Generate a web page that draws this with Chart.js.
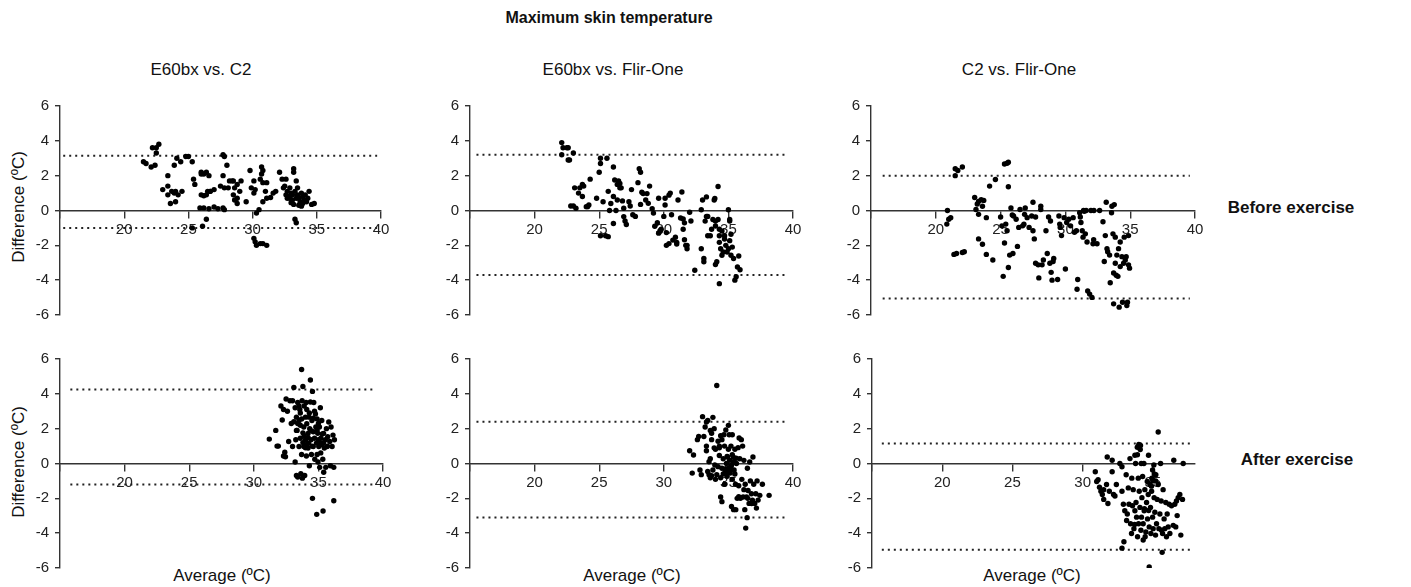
<!DOCTYPE html>
<html>
<head>
<meta charset="utf-8">
<script src="https://cdn.jsdelivr.net/npm/chart.js@4.4.1/dist/chart.umd.min.js"></script>
<style>
  body { margin: 0; background: #fff; font-family: "Liberation Sans", Arial, sans-serif; color: #111; }
  #wrap { position: relative; width: 1411px; height: 587px; overflow: hidden; }
  canvas { position: absolute; }
  .lbl { position: absolute; transform: translate(-50%, -50%); white-space: nowrap; }
  .main { font-weight: bold; font-size: 16px; }
  .col { font-size: 17px; }
  .row { font-weight: bold; font-size: 17px; }
  .ax { font-size: 17px; }
  .rot { transform: translate(-50%, -50%) rotate(-90deg); }
</style>
</head>
<body>
<div id="wrap">
  <div class="lbl main" style="left:609px; top:18px">Maximum skin temperature</div>
  <div class="lbl col" style="left:201px; top:70px">E60bx vs. C2</div>
  <div class="lbl col" style="left:613px; top:70px">E60bx vs. Flir-One</div>
  <div class="lbl col" style="left:1019px; top:70px">C2 vs. Flir-One</div>
  <div class="lbl row" style="left:1291px; top:208px">Before exercise</div>
  <div class="lbl row" style="left:1297px; top:460px">After exercise</div>
  <div class="lbl ax rot" style="left:19px; top:207px">Difference (ºC)</div>
  <div class="lbl ax rot" style="left:19px; top:462px">Difference (ºC)</div>
  <div class="lbl ax" style="left:222px; top:576px">Average (ºC)</div>
  <div class="lbl ax" style="left:632px; top:576px">Average (ºC)</div>
  <div class="lbl ax" style="left:1032px; top:576px">Average (ºC)</div>
</div>
<script>
// [average, difference] pairs
const e60c2Before = [
  [21.5,2.8],[21.7,2.7],[22.2,3.6],[22.5,3.6],[22.7,3.8],[22.5,3.3],[22.1,2.5],[22.4,2.6],
  [23.0,1.2],[23.4,2.0],[23.4,1.4],[23.4,0.9],[23.6,0.4],[23.7,1.1],[23.9,1.0],[24.0,0.5],[24.0,1.1],[24.2,0.9],
  [23.9,2.6],[24.1,3.0],[24.4,2.8],[24.5,1.1],[24.8,3.1],[25.0,3.1],
  [25.3,-1.0],[25.4,1.8],[25.5,1.5],[25.3,2.8],[26.1,-0.9],[26.4,-0.5],
  [26.0,2.1],[26.0,2.2],[26.2,2.1],[26.4,2.2],[26.0,0.9],[26.2,0.85],[26.4,0.9],[26.5,1.1],[26.7,1.1],
  [25.9,0.15],[26.2,0.15],[26.6,0.1],[27.0,0.2],[27.3,0.1],[27.7,0.15],[27.8,0.05],
  [26.6,2.0],[26.7,1.1],[27.0,1.2],[27.7,3.2],[27.8,3.1],
  [27.5,1.4],[27.7,2.0],[27.8,1.3],[28.0,2.6],[28.1,1.3],[28.2,1.7],[28.4,1.7],[28.5,1.7],[28.6,1.3],[28.8,1.5],
  [28.5,0.9],[28.6,0.6],[28.8,0.4],[28.8,0.7],[29.0,1.1],[29.1,1.7],
  [29.5,0.5],[29.8,2.3],[29.9,1.3],[30.1,1.0],[30.1,1.7],[30.2,1.2],
  [30.1,-1.6],[30.2,-1.8],[30.3,-2.0],[30.6,-1.9],[30.8,-1.9],[31.1,-2.0],
  [30.3,-0.15],[30.5,0.05],[30.6,1.8],[30.7,2.1],[30.7,2.5],[30.8,2.3],[30.8,1.6],[31.0,1.1],[31.1,1.6],[31.1,0.7],[30.8,0.5],
  [31.4,0.75],[31.6,1.0],[31.8,1.1],[32.1,2.2],[32.3,1.8],[32.4,1.3],[32.5,1.4],[32.6,1.8],[32.7,1.1],[32.7,0.7],
  [32.8,0.8],[32.9,0.7],[33.0,0.45],[33.1,0.9],[33.2,2.2],[33.2,2.4],[33.2,0.35],[33.3,1.1],[33.4,0.7],[33.4,1.7],
  [33.5,0.9],[33.6,0.7],[33.7,0.5],[33.7,0.35],[33.8,0.25],[33.8,1.0],[33.9,0.8],[34.0,0.6],[34.2,0.5],[34.3,0.7],
  [34.4,1.1],[34.6,0.35],[34.8,0.4],[33.3,-0.5],[33.4,-0.7],
  [32.9,1.3],[33.0,1.0],[33.5,1.3],[33.6,0.3],[33.9,0.4],[34.1,0.9],[32.6,0.9],[33.1,0.6]
];
const e60flirBefore = [
  [22.1,3.9],[22.2,3.6],[22.5,3.6],[22.6,3.6],[22.1,3.2],[23.0,3.3],[22.6,2.9],[22.7,2.9],
  [22.8,0.26],[23.0,0.26],[23.1,1.3],[23.2,0.13],[23.4,1.0],[23.5,1.3],[23.7,1.5],[23.7,0.8],[23.8,1.4],[24.0,0.22],
  [24.2,0.32],[24.3,1.8],[24.1,0.22],[24.8,0.7],[25.0,2.2],[25.1,3.0],[25.1,2.7],[25.3,0.5],[25.6,3.0],[25.7,1.1],
  [25.8,0.0],[25.9,0.4],[26.1,2.5],[26.1,0.8],[26.2,1.75],[26.3,0.0],[26.4,1.5],[26.4,0.6],[26.5,1.7],[26.6,1.3],
  [26.6,1.55],[26.7,1.3],[26.8,0.55],[26.9,0.13],[26.9,-0.35],[27.0,-0.6],[27.1,-0.8],[26.1,-0.75],[25.1,-1.45],[25.7,-1.5],[25.5,-1.45],
  [27.3,0.5],[27.4,0.26],[27.5,1.2],[27.6,-0.24],[27.8,-0.34],[28.0,1.6],[28.1,2.4],[28.2,2.2],[28.2,0.35],[28.3,1.05],
  [28.4,0.97],[28.6,0.6],[28.7,0.97],[28.8,0.41],[28.9,1.4],
  [29.1,0.1],[29.2,-0.15],[29.3,-0.9],[29.5,-0.7],[29.6,0.7],[29.6,-1.3],[29.7,-1.17],[29.8,-1.08],[30.1,0.7],[30.1,0.32],
  [30.0,-0.34],[30.2,-1.27],[30.2,-2.0],[30.4,-1.9],[30.4,0.88],[30.5,1.0],[30.6,-0.24],[30.7,-1.7],[30.9,-1.54],[31.0,-1.83],
  [31.0,-1.92],[31.1,0.6],[31.3,-0.43],[31.4,1.06],[31.5,-0.49],[31.5,-1.08],[31.6,-0.71],[31.6,-1.68],[31.7,-2.0],[31.8,-2.2],[31.8,-2.0],
  [32.0,-0.1],[32.1,-0.6],[32.4,-3.43],[32.9,-2.2],[32.9,0.04],[33.0,0.6],[33.1,-2.94],[33.1,-2.76],[33.2,-0.61],[33.3,-0.34],
  [33.3,0.78],[33.4,-0.34],[33.4,-1.45],[33.6,-1.45],[33.7,-1.08],[33.8,-0.52],[33.9,0.6],[34.0,-0.89],[34.0,-0.61],[33.95,0.69],
  [34.0,-3.1],[34.1,-2.94],[34.2,1.38],[34.2,-0.52],[34.3,-1.08],[34.3,-1.83],[34.3,-1.45],[34.4,-2.2],[34.5,-1.17],[34.5,-2.57],
  [34.6,-2.38],[34.7,-1.64],[34.7,-1.45],[34.8,-2.0],[34.9,-2.38],[35.0,-2.2],[35.0,0.04],[35.1,-0.61],[35.1,-1.73],[35.2,-1.36],
  [35.2,-2.57],[35.3,-2.1],[35.4,-2.76],[35.5,-4.0],[35.6,-3.8],[35.7,-3.24],[35.8,-2.61],[35.9,-3.4],[35.1,-0.52],[34.3,-4.2]
];
const c2flirBefore = [
  [20.9,0.0],[21.0,-0.5],[20.85,-0.78],[21.15,-0.41],[21.5,2.0],[21.5,2.4],[21.7,2.3],[22.05,2.5],
  [21.4,-2.52],[21.6,-2.47],[22.05,-2.41],[22.2,-2.37],
  [23.0,0.75],[23.1,0.06],[23.2,0.37],[23.3,0.52],[23.5,0.62],[23.6,0.24],[23.7,0.58],[23.3,-0.22],[23.9,-0.41],[23.3,-1.63],
  [23.6,-1.94],[23.9,-2.52],[24.15,1.4],[24.4,-2.84],[24.6,1.78],[25.0,-0.37],[25.1,-0.88],[25.2,-3.78],[25.3,2.67],[25.5,2.71],
  [25.6,2.77],[25.4,-0.78],[25.3,-1.87],[25.5,-1.16],[25.6,1.36],[25.6,-3.27],[25.7,-2.56],[25.8,0.15],[25.9,-0.26],[25.95,-2.47],
  [26.0,-0.32],[26.2,-0.5],[26.3,-2.06],[26.4,-0.97],[26.5,0.06],[26.7,-0.88],[26.8,-0.79],[26.85,-0.22],[26.9,0.15],[27.05,-0.41],
  [27.2,-0.97],[27.4,-0.32],[27.5,0.47],[27.5,-1.16],[27.6,-1.63],[27.7,-0.37],[27.7,-3.03],[27.9,-3.12],[27.95,-3.87],[28.1,0.24],
  [28.1,0.06],[28.2,-3.12],[28.3,-2.84],[28.5,-1.16],[28.6,-2.47],[28.7,-0.37],[28.85,-0.6],[28.8,-3.03],[28.9,-3.55],[28.97,-4.0],
  [29.1,-2.75],[29.05,-2.93],[29.4,-3.96],[29.5,-0.32],[29.56,-0.78],[29.6,-0.97],[29.7,-1.44],[29.9,-0.41],[30.0,-3.36],[30.1,-0.69],
  [30.26,-0.5],[30.4,-0.88],[30.6,-0.41],[30.7,-1.25],[30.85,-1.16],[30.9,-4.52],[30.95,-3.96],[31.1,-0.13],[31.15,-0.37],[31.2,-0.69],
  [31.3,-1.16],[31.36,-1.53],[31.46,-0.04],[31.54,-1.34],[31.67,-1.81],[31.72,-4.62],[31.87,-4.8],[31.97,0.0],[32.05,-4.99],[32.13,-1.91],
  [32.18,-1.68],[32.44,-1.91],[32.64,0.0],[32.9,-0.65],[33.0,-2.93],[33.08,-1.44],[33.15,0.47],[33.21,-2.19],[33.26,-2.37],[33.41,-2.56],
  [33.46,-4.15],[33.56,-0.13],[33.59,0.24],[33.67,-1.34],[33.72,-3.59],[33.72,-5.36],[33.77,0.34],[33.85,-1.53],[33.85,-3.03],[33.92,-3.72],
  [33.97,-2.56],[34.05,-3.78],[34.1,-2.19],[34.15,-5.55],[34.23,-3.22],[34.23,-1.81],[34.36,-2.65],[34.41,-5.27],[34.49,-3.03],[34.54,-1.53],
  [34.62,-2.84],[34.69,-2.65],[34.74,-5.46],[34.79,-5.27],[34.87,-1.44],[34.87,-3.12],[34.95,-3.31],[31.4,0.0],[31.6,0.0],[32.2,0.0]
];
const e60c2After = [
  [31.2,1.4],[31.7,1.9],[31.8,1.0],[31.9,1.0],[32.1,3.3],[32.2,2.5],[32.3,0.43],[32.3,3.1],[32.4,0.65],[32.45,0.39],
  [32.5,3.7],[32.6,3.0],[32.7,1.26],[32.8,3.6],[32.9,2.3],[33.0,0.98],[33.0,3.6],[33.1,4.37],[33.1,2.4],[33.2,0.09],
  [33.2,3.2],[33.25,1.36],[33.3,2.66],[33.3,-0.69],[33.35,1.9],[33.4,3.5],[33.4,-0.78],[33.5,2.47],[33.5,0.98],[33.56,3.1],
  [33.6,2.2],[33.6,1.45],[33.64,-0.59],[33.7,5.4],[33.7,0.52],[33.7,2.56],[33.74,3.6],[33.76,-0.84],[33.8,1.76],[33.8,4.42],
  [33.87,2.1],[33.87,0.98],[33.9,3.3],[33.94,-0.69],[34.0,2.66],[34.0,1.36],[34.05,3.5],[34.07,0.43],[34.1,2.28],[34.1,3.1],
  [34.2,1.73],[34.2,0.89],[34.25,1.17],[34.28,2.66],[34.3,-0.13],[34.33,2.0],[34.38,3.53],[34.38,4.79],[34.43,1.36],[34.46,0.52],
  [34.5,2.47],[34.54,4.14],[34.54,-2.0],[34.6,1.82],[34.6,0.98],[34.64,3.5],[34.7,1.45],[34.72,0.24],[34.77,2.84],[34.8,2.1],
  [34.85,1.17],[34.87,-2.92],[34.9,0.52],[34.9,2.56],[34.95,1.73],[34.97,0.09],[35.0,1.36],[35.03,0.98],[35.08,2.1],[35.1,-0.22],
  [35.15,3.2],[35.18,0.61],[35.2,1.45],[35.26,2.47],[35.28,1.08],[35.34,0.24],[35.36,-2.73],[35.4,1.73],[35.41,-0.5],[35.46,0.89],
  [35.54,1.36],[35.57,-0.22],[35.62,2.0],[35.67,0.98],[35.72,1.54],[35.8,2.38],[35.88,1.26],[35.93,-0.13],[35.98,2.1],[36.06,0.98],
  [36.13,1.63],[36.19,-2.14],[36.19,-0.22],[36.24,1.36],
  [33.3,1.9],[33.6,2.9],[33.9,1.6],[34.1,1.1],[34.3,2.9],[34.5,1.0],[34.7,3.0],[34.9,1.9],[35.1,1.2],[35.3,1.7],
  [33.4,2.3],[33.8,1.2],[34.2,1.5],[34.6,2.6],[35.0,2.3],[35.4,1.2],[35.7,1.0],[34.0,0.9],[34.4,1.9],[33.5,3.3]
];
const e60flirAfter = [
  [32.0,0.73],[32.3,0.49],[32.2,-0.55],[32.6,1.37],[32.7,1.55],[32.8,-0.37],[32.9,-0.64],[33.0,2.69],[33.1,1.55],[33.2,2.1],
  [33.3,1.0],[33.3,2.38],[33.3,0.73],[33.4,-0.46],[33.4,2.47],[33.5,-0.64],[33.6,0.27],[33.6,-0.82],[33.7,1.74],[33.7,1.37],
  [33.8,2.65],[33.8,-0.37],[33.9,2.0],[33.95,-0.09],[34.0,-0.91],[34.0,0.82],[34.1,4.48],[34.1,-0.64],[34.2,1.28],[34.2,-0.18],
  [34.3,1.0],[34.3,0.46],[34.4,-1.92],[34.4,-0.82],[34.5,1.37],[34.5,-0.27],[34.5,-2.19],[34.6,0.27],[34.65,1.65],[34.7,-1.19],
  [34.7,1.0],[34.75,-0.46],[34.8,1.92],[34.85,0.0],[34.9,-0.73],[34.93,0.37],[35.0,2.19],[35.0,0.82],[35.03,-0.27],[35.06,1.65],
  [35.1,0.18],[35.14,-0.55],[35.2,1.0],[35.24,-2.47],[35.24,-0.09],[35.3,-0.91],[35.3,1.65],[35.37,0.37],[35.4,-2.65],[35.44,-0.37],
  [35.5,0.82],[35.55,-1.19],[35.57,-2.65],[35.62,0.0],[35.68,-2.0],[35.75,0.91],[35.8,-1.28],[35.83,1.46],[35.88,0.27],[35.93,-2.0],
  [36.0,1.37],[36.04,-0.91],[36.1,1.0],[36.14,-1.92],[36.2,0.18],[36.27,-2.65],[36.3,-1.19],[36.34,-3.71],[36.4,-1.92],[36.45,-3.11],
  [36.47,-0.27],[36.52,-1.55],[36.6,-2.29],[36.65,0.09],[36.7,-1.0],[36.78,-1.74],[36.86,-2.1],[36.9,0.37],[36.96,-1.19],[37.04,-2.29],
  [37.12,-1.74],[37.17,-2.56],[37.22,-1.0],[37.3,-2.1],[37.43,-1.83],[37.63,-1.19],[38.15,-1.83],
  [34.8,-0.3],[35.0,-0.5],[35.2,-0.2],[35.4,0.1],[35.1,-0.4],[34.9,0.4],[35.3,0.5],[35.6,0.3],[34.6,-0.6],[35.5,-0.6],
  [33.9,0.9],[34.3,0.9],[33.5,0.1],[33.7,-0.7],[36.2,-1.5],[36.5,-2.0],[36.8,-2.3],[35.8,-1.9],[33.6,1.9],[34.4,1.6]
];
const c2flirAfter = [
  [30.9,-0.47],[31.1,-0.93],[31.0,-1.03],[31.2,-1.36],[31.3,-1.59],[31.4,-1.78],[31.5,-2.06],[31.5,-1.5],[31.7,-1.21],[31.75,0.37],
  [31.8,-2.3],[31.9,-1.59],[32.1,-0.47],[32.1,0.19],[32.2,-1.78],[32.3,-1.87],[32.4,-1.21],[32.65,0.0],[32.8,-0.19],[32.8,-1.59],
  [32.8,-4.86],[32.9,-2.34],[32.94,-4.49],[33.0,-2.71],[33.1,-0.65],[33.13,-3.27],[33.18,-2.9],[33.25,-1.4],[33.3,-2.34],[33.37,0.28],
  [33.41,-3.46],[33.48,-4.02],[33.5,-0.84],[33.55,-2.43],[33.6,-1.5],[33.65,-3.74],[33.72,0.47],[33.72,-2.71],[33.77,0.0],[33.8,-2.24],
  [33.84,-3.08],[33.89,0.93],[33.91,-4.21],[33.96,-0.84],[33.98,-3.46],[34.03,-1.59],[34.08,-2.52],[34.12,1.03],[34.15,-3.83],[34.17,0.0],
  [34.19,-3.08],[34.22,-1.96],[34.27,-0.75],[34.31,-4.39],[34.31,-3.46],[34.36,0.0],[34.38,-2.71],[34.43,-1.5],[34.45,-4.21],[34.5,-3.93],
  [34.55,-2.24],[34.6,-1.03],[34.62,-3.18],[34.67,-1.78],[34.69,0.47],[34.74,-5.94],[34.74,-3.64],[34.79,-1.21],[34.83,-2.52],[34.86,-4.02],
  [34.91,-1.59],[34.93,-0.84],[34.98,-0.37],[34.98,-3.08],[35.02,-3.74],[35.07,-0.09],[35.09,-1.96],[35.14,-2.8],[35.19,-4.11],[35.21,-0.65],
  [35.26,-3.46],[35.31,-2.06],[35.38,1.81],[35.38,-1.21],[35.43,-3.74],[35.5,-2.9],[35.55,0.0],[35.59,-2.15],[35.62,-3.83],[35.66,-5.1],
  [35.69,-4.02],[35.73,-1.5],[35.8,-3.18],[35.85,-3.74],[35.92,-2.24],[35.97,-4.21],[36.02,-2.9],[36.09,-3.64],[36.16,-2.34],[36.21,-4.02],
  [36.33,-2.43],[36.45,-3.55],[36.49,0.19],[36.56,-2.34],[36.63,-3.64],[36.68,-2.15],[36.73,-2.99],[36.8,-1.96],[36.92,-1.78],[36.99,-4.11],
  [37.11,-2.06],[37.16,0.0],
  [34.0,1.1],[34.1,0.8],[33.9,0.5],[35.0,-1.0],[35.1,-0.6],[34.9,-1.3],[35.2,-1.0],[34.7,-2.7],[34.4,-2.6],[33.7,-3.5]
];

// limits of agreement [upper, lower]
const e60c2BeforeLoa = [3.15, -1.0];
const e60flirBeforeLoa = [3.2, -3.7];
const c2flirBeforeLoa = [2.0, -5.05];
const e60c2AfterLoa = [4.25, -1.2];
const e60flirAfterLoa = [2.4, -3.1];
const c2flirAfterLoa = [1.15, -4.95];

const yTicks = [-6, -4, -2, 0, 2, 4, 6];

Chart.defaults.font.family = '"Liberation Sans", Arial, sans-serif';
Chart.defaults.font.size = 15;
Chart.defaults.color = '#222';

const wrap = document.getElementById('wrap');

function makePanel(pts, loa, area, xMax, lineFrom, lineTo) {
  const c = document.createElement('canvas');
  const w = area.w + 40 + 22, h = area.h + 24;
  c.width = w; c.height = h;
  c.style.left = (area.x - 40) + 'px';
  c.style.top = (area.y - 12) + 'px';
  wrap.appendChild(c);

  const dotted = {
    showLine: true, pointRadius: 0, borderColor: '#222', borderWidth: 2,
    borderDash: [2, 4], fill: false
  };

  new Chart(c, {
    type: 'scatter',
    data: {
      datasets: [
        { data: pts.map(p => ({x: p[0], y: p[1]})), backgroundColor: '#000', borderWidth: 0, pointRadius: 2.7 },
        Object.assign({ data: [{x: lineFrom, y: loa[0]}, {x: lineTo, y: loa[0]}] }, dotted),
        Object.assign({ data: [{x: lineFrom, y: loa[1]}, {x: lineTo, y: loa[1]}] }, dotted)
      ]
    },
    options: {
      responsive: false,
      animation: false,
      layout: { padding: { left: 0, top: 12, right: 22, bottom: 12 } },
      plugins: { legend: { display: false }, tooltip: { enabled: false } },
      scales: {
        x: {
          type: 'linear', min: 15, max: xMax, position: { y: 0 },
          border: { display: true, color: '#333', width: 1.4 },
          grid: { drawOnChartArea: false, drawTicks: true, tickLength: 7, color: '#333', lineWidth: 1.4 },
          ticks: {
            stepSize: 5, includeBounds: false, maxRotation: 0, autoSkip: false, padding: 3,
            callback: v => v === 15 ? '' : v
          }
        },
        y: {
          min: -6, max: 6,
          afterFit: s => { s.width = 40; },
          border: { display: true, color: '#333', width: 1.4 },
          grid: { drawOnChartArea: false, drawTicks: true, tickLength: 5, color: '#333', lineWidth: 1.4 },
          afterBuildTicks: s => { s.ticks = yTicks.map(v => ({value: v})); },
          ticks: { padding: 6 }
        }
      }
    }
  });
}

makePanel(e60c2Before, e60c2BeforeLoa, {x: 60, y: 103, w: 321, h: 215}, 40, 15.25, 39.7);
makePanel(e60flirBefore, e60flirBeforeLoa, {x: 470, y: 103, w: 323, h: 215}, 40, 15.5, 39.6);
makePanel(c2flirBefore, c2flirBeforeLoa, {x: 871, y: 103, w: 324, h: 215}, 40, 15.9, 39.6);
makePanel(e60c2After, e60c2AfterLoa, {x: 60, y: 356, w: 323, h: 215}, 40, 15.8, 39.2);
makePanel(e60flirAfter, e60flirAfterLoa, {x: 470, y: 356, w: 323, h: 215}, 40, 15.5, 39.6);
makePanel(c2flirAfter, c2flirAfterLoa, {x: 872, y: 356, w: 323, h: 215}, 38, 15.7, 37.65);
</script>
</body>
</html>
